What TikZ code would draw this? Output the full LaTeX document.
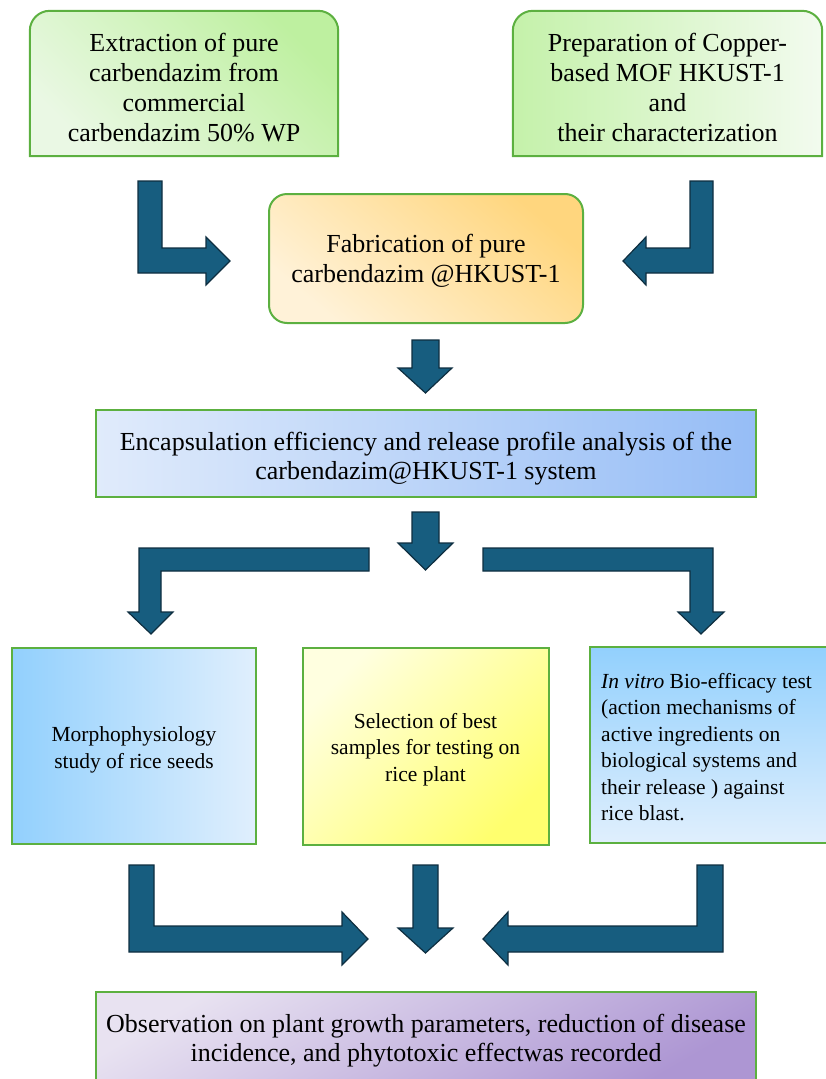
\documentclass[tikz,border=0pt]{standalone}
\usepackage{fontspec}
\setmainfont{Liberation Serif}
\newfontfamily\figfont{Liberation Serif}
\usetikzlibrary{backgrounds}

\definecolor{boxgreen}{HTML}{5CB040}
\definecolor{arrowfill}{HTML}{175D7F}
\definecolor{arrowline}{HTML}{0E2E40}
\definecolor{greendark}{HTML}{BEF0A0}
\definecolor{greenlight}{HTML}{EAF8E4}
\definecolor{orangedark}{HTML}{FFD67E}
\definecolor{orangelight}{HTML}{FFF2D8}
\definecolor{bluelight}{HTML}{E0EBFB}
\definecolor{bluedark}{HTML}{96BDF6}
\definecolor{skydark}{HTML}{92D0FD}
\definecolor{skylight}{HTML}{E0EFFD}
\definecolor{yellowlight}{HTML}{FFFFE0}
\definecolor{yellowdark}{HTML}{FFFF6E}
\definecolor{violetlight}{HTML}{E8E2F1}
\definecolor{violetdark}{HTML}{AD96D3}

\begin{document}
\begin{tikzpicture}[
    x=1pt, y=-1pt,
    box/.style={draw=boxgreen, line width=2pt, inner sep=0pt},
    topbox/.style={draw=boxgreen, line width=2pt},
    txt/.style={align=center, inner sep=0pt, text=black},
    bigtext/.style={txt, font=\figfont\fontsize{26}{30}\selectfont},
    midtext/.style={txt, font=\figfont\fontsize{26}{29}\selectfont},
    smalltext/.style={txt, font=\figfont\fontsize{21.5}{26.5}\selectfont},
    fatarrow/.style={fill=arrowfill, draw=arrowline, line width=1.2pt, line join=miter}
]
    \path[use as bounding box] (0,0) rectangle (826,1079);
    \clip (0,0) rectangle (826,1079);

    % Starting materials
    \node[minimum width=308, minimum height=145, inner sep=0pt] (extract) at (184,83.5) {};
    \node[minimum width=309, minimum height=145, inner sep=0pt] (mof) at (667.5,83.5) {};

    \path[topbox, top color=greendark, bottom color=greenlight, shading angle=-45]
        (extract.south west) -- ([yshift=-20pt]extract.north west)
        arc[start angle=180, end angle=90, radius=20pt] -- ([xshift=-20pt]extract.north east)
        arc[start angle=90, end angle=0, radius=20pt] -- (extract.south east) -- cycle;
    \path[topbox, left color=greendark!85!greenlight, right color=greenlight!60!white]
        (mof.south west) -- ([yshift=-20pt]mof.north west)
        arc[start angle=180, end angle=90, radius=20pt] -- ([xshift=-20pt]mof.north east)
        arc[start angle=90, end angle=0, radius=20pt] -- (mof.south east) -- cycle;

    \node[bigtext, yshift=-4pt] (extract-txt) at (extract)
        {Extraction of pure\\carbendazim from\\commercial\\carbendazim 50\% WP};
    \node[bigtext, yshift=-4pt] (mof-txt) at (mof)
        {Preparation of Copper-\\based MOF HKUST-1\\and\\ their characterization};

    % Bent arrows into fabrication
    \draw[fatarrow] (138,181) -- (162,181) -- (162,248) -- (206,248) -- (206,237) -- (230,261)
        -- (206,285) -- (206,273) -- (138,273) -- cycle;
    \draw[fatarrow] (713,181) -- (690,181) -- (690,248) -- (646,248) -- (646,237) -- (623,261)
        -- (646,285) -- (646,273) -- (713,273) -- cycle;

    % Fabrication
    \node[box, rounded corners=18pt, minimum width=314, minimum height=129,
        top color=orangedark, bottom color=orangelight, shading angle=-40] (fabric) at (426,258.5) {};
    \node[bigtext, yshift=-2.5pt] (fabric-txt) at (fabric) {Fabrication of pure\\carbendazim @HKUST-1};

    \draw[fatarrow] (412,340) -- (439,340) -- (439,368) -- (452,368) -- (425.5,393) -- (398,368)
        -- (412,368) -- cycle;

    % Encapsulation and release
    \node[box, minimum width=660, minimum height=87,
        left color=bluelight, right color=bluedark] (encap) at (426,453.5) {};
    \node[midtext, yshift=-5pt] (encap-txt) at (encap)
        {Encapsulation efficiency and release profile analysis of the\\carbendazim@HKUST-1 system};

    \draw[fatarrow] (412,512) -- (439,512) -- (439,543) -- (453,543) -- (425.5,570) -- (398,543)
        -- (412,543) -- cycle;
    \draw[fatarrow] (369,548) -- (139,548) -- (139,612) -- (128,612) -- (151,634) -- (173,612)
        -- (161,612) -- (161,571) -- (369,571) -- cycle;
    \draw[fatarrow] (483,548) -- (713,548) -- (713,612) -- (724,612) -- (701,634) -- (678,612)
        -- (690,612) -- (690,571) -- (483,571) -- cycle;

    % Studies
    \node[box, minimum width=244, minimum height=196,
        left color=skydark, right color=skylight] (morpho) at (134,746) {};
    \node[box, minimum width=246, minimum height=197,
        top color=yellowlight, bottom color=yellowdark, shading angle=45] (select) at (425.5,746.5) {};
    \node[box, minimum width=252, minimum height=196,
        top color=skydark, bottom color=skylight] (bioeff) at (716,745) {};

    \node[smalltext, yshift=-4pt] (morpho-txt) at (morpho) {Morphophysiology\\study of rice seeds};
    \node[smalltext, yshift=-3pt] (select-txt) at (select) {Selection of best\\samples for testing on\\rice plant};
    \node[smalltext, align=left, anchor=west, yshift=-2pt] (bioeff-txt) at ([xshift=12pt]bioeff.west) {%
        \textit{In vitro} Bio-efficacy test\\(action mechanisms of\\active ingredients on\\%
        biological systems and\\their release ) against\\rice blast.};

    % Arrows into observation
    \draw[fatarrow] (129,865) -- (154,865) -- (154,926) -- (342,926) -- (342,912) -- (368,939)
        -- (342,965) -- (342,952) -- (129,952) -- cycle;
    \draw[fatarrow] (413,865) -- (438,865) -- (438,928) -- (453,928) -- (425.5,953) -- (398,928)
        -- (413,928) -- cycle;
    \draw[fatarrow] (723,865) -- (697,865) -- (697,926) -- (508,926) -- (508,912) -- (483,939)
        -- (508,965) -- (508,952) -- (723,952) -- cycle;

    % Observation
    \node[box, minimum width=660, minimum height=92,
        top color=violetlight, bottom color=violetdark, shading angle=30] (observe) at (426,1038) {};
    \node[midtext, yshift=-3pt] (observe-txt) at (observe)
        {Observation on plant growth parameters, reduction of disease\\incidence, and phytotoxic effectwas recorded};

\end{tikzpicture}
\end{document}
